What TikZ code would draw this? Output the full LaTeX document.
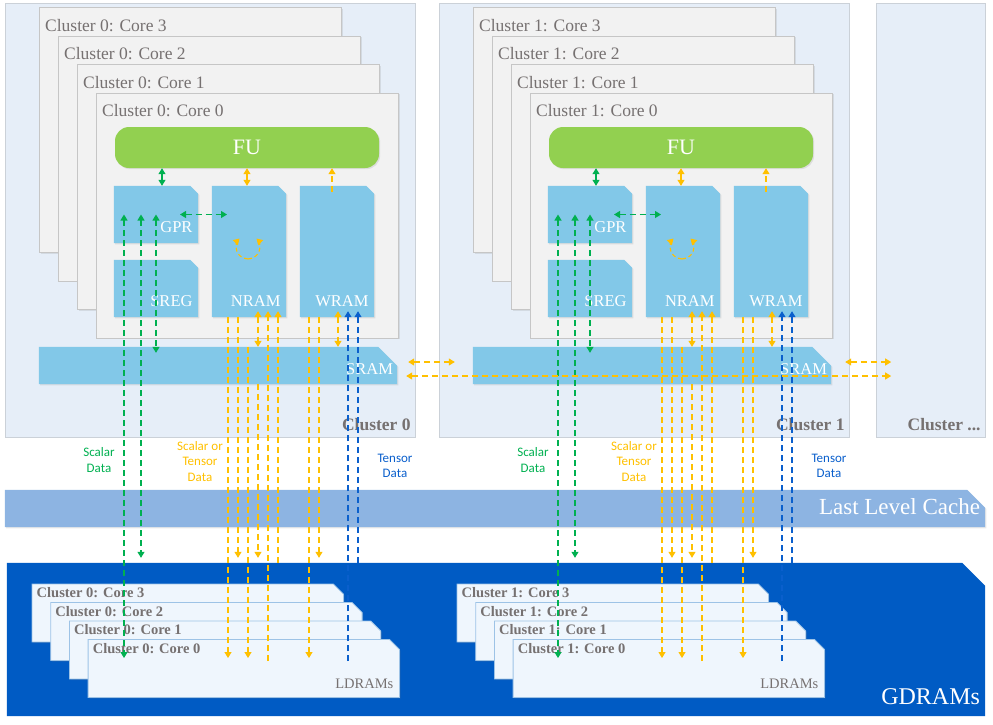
\documentclass[tikz,border=0pt]{standalone}
\usepackage{fontspec}
\setmainfont{Liberation Serif}
\newfontfamily\notefont{Carlito}
\usetikzlibrary{arrows.meta,shadows}

\definecolor{clusterbg}{HTML}{E6EEF8}
\definecolor{clusterline}{HTML}{CBD1D8}
\definecolor{corebg}{HTML}{F2F2F2}
\definecolor{coreline}{HTML}{C6C6C6}
\definecolor{memfill}{HTML}{82C8E8}
\definecolor{fugreen}{HTML}{92D050}
\definecolor{llcfill}{HTML}{8DB4E2}
\definecolor{gdramfill}{HTML}{005BC4}
\definecolor{ldfill}{HTML}{EFF6FD}
\definecolor{ldline}{HTML}{9DC3E6}
\definecolor{greytext}{HTML}{767171}
\definecolor{sgreen}{HTML}{00B050}
\definecolor{syellow}{HTML}{FFC000}
\definecolor{sblue}{HTML}{0A5FCC}

% box with its north east corner cut off
\newcommand{\snipshape}[3]{%
  \path[#3] (#1.south west) -- (#1.north west) -- ([xshift=-#2]#1.north east)
    -- ([yshift=-#2]#1.north east) -- (#1.south east) -- cycle;}

\tikzset{
  softshadow/.style={drop shadow={shadow xshift=1.2pt, shadow yshift=-1.2pt, opacity=.18}},
  clusterbox/.style={draw=clusterline, fill=clusterbg, line width=.8pt, anchor=north west,
    inner sep=0pt, minimum height=434pt},
  clustername/.style={anchor=base east, inner sep=0pt, text=greytext,
    font=\bfseries\fontsize{17.5}{20}\selectfont},
  corebox/.style={draw=coreline, fill=corebg, line width=.8pt, anchor=north west,
    inner sep=0pt, minimum width=302pt, minimum height=245pt, softshadow},
  corename/.style={anchor=base west, inner sep=0pt, text=greytext,
    font=\fontsize{17.5}{20}\selectfont},
  fubox/.style={fill=fugreen, rounded corners=14pt, minimum width=264pt, minimum height=41pt,
    text=white, font=\fontsize{22}{24}\selectfont, softshadow},
  area/.style={rectangle, inner sep=0pt},
  memname/.style={anchor=base east, inner sep=0pt, text=white,
    font=\fontsize{16.5}{18}\selectfont},
  ldbox/.style={area, anchor=north west, minimum width=311pt, minimum height=57.5pt},
  ldname/.style={anchor=base west, inner sep=0pt, text=greytext,
    font=\bfseries\fontsize{14.5}{16}\selectfont},
  notetext/.style={align=center, inner sep=0pt, font=\notefont\fontsize{13}{15.5}\selectfont},
  flow/.style={line width=1.1pt, dash pattern=on 6pt off 4pt},
  gflow/.style={flow, sgreen},
  yflow/.style={flow, syellow},
  bflow/.style={flow, sblue}
}

\begin{document}
\begin{tikzpicture}[x=1pt, y=1pt, >={Triangle[length=6pt,width=7pt]}]
\useasboundingbox (0,0) rectangle (993,-724);

% clusters and their cores
\foreach \c/\dx in {0/0,1/434}{
  \begin{scope}[xshift=\dx pt]
    \node[clusterbox, minimum width=410pt] (cl\c) at (5,-3) {};
    \node[clustername] at ([xshift=-5pt,yshift=7pt]cl\c.south east) {Cluster \c};
    \foreach \k/\i in {3/0,2/1,1/2,0/3}{
      \node[corebox] (core\c\k) at ({39+19*\i},{-7-28.5*\i}) {};
      \node[corename] at ([xshift=6pt,yshift=-24pt]core\c\k.north west) {Cluster \c: Core \k};
    }
    \node[fubox] (fu\c) at (247,-147.5) {FU};
    \node[area, minimum width=84pt, minimum height=57pt] (gpr\c) at (156,-214.5) {};
    \node[area, minimum width=84pt, minimum height=57pt] (sreg\c) at (156,-288.5) {};
    \node[area, minimum width=74pt, minimum height=131pt] (nram\c) at (249,-251.5) {};
    \node[area, minimum width=74pt, minimum height=131pt] (wram\c) at (337,-251.5) {};
    \node[area, minimum width=358pt, minimum height=37pt] (sram\c) at (218,-365.5) {};
    \foreach \m in {gpr,sreg,nram,wram}
      \snipshape{\m\c}{8pt}{fill=memfill, softshadow};
    \snipshape{sram\c}{19pt}{fill=memfill, softshadow};
    \foreach \m/\t in {gpr/GPR,sreg/SREG,nram/NRAM,wram/WRAM}
      \node[memname] at ([xshift=-5.5pt,yshift=10.5pt]\m\c.south east) {\t};
    \node[memname] at ([xshift=-4pt,yshift=10pt]sram\c.south east) {SRAM};
    \node[notetext, text=sgreen] at (99,-460) {Scalar\\Data};
    \node[notetext, text=syellow] at (200,-461.5) {Scalar or\\Tensor\\Data};
    \node[notetext, text=sblue] at (395,-466) {Tensor\\Data};
  \end{scope}
}
\node[clusterbox, minimum width=109pt] (clx) at (876,-3) {};
\node[clustername] at ([xshift=-5pt,yshift=7pt]clx.south east) {Cluster ...};

% caches and DRAM
\node[area, minimum width=980pt, minimum height=37pt] (llc) at (495,-508.5) {};
\snipshape{llc}{18pt}{fill=llcfill, softshadow};
\node[memname, font=\fontsize{23}{25}\selectfont] at ([xshift=-5pt,yshift=13pt]llc.south east) {Last Level Cache};
\node[area, minimum width=978pt, minimum height=153pt] (gdram) at (496,-639.5) {};
\snipshape{gdram}{23pt}{fill=gdramfill};
\node[memname, font=\fontsize{24}{26}\selectfont] at ([xshift=-5pt,yshift=12pt]gdram.south east) {GDRAMs};
\coordinate (gdtip) at ([yshift=5pt]gdram.north);

\foreach \c/\dx in {0/0,1/425}{
  \begin{scope}[xshift=\dx pt]
    \foreach \k/\i in {3/0,2/1,1/2,0/3}{
      \node[ldbox] (ldr\c\k) at ({32+18.7*\i},{-584-18.5*\i}) {};
      \snipshape{ldr\c\k}{10pt}{fill=ldfill, draw=ldline, line width=.8pt, softshadow};
      \node[ldname] at ([xshift=4.5pt,yshift=-13.5pt]ldr\c\k.north west) {Cluster \c: Core \k};
    }
    \node[anchor=base east, inner sep=0pt, text=greytext, font=\fontsize{14.5}{16}\selectfont]
      at ([xshift=-6pt,yshift=9pt]ldr\c0.south east) {LDRAMs};
    \coordinate (ldtip\c) at ([yshift=-18.5pt]ldr\c0.north);
    \coordinate (ldend\c) at ([yshift=-21.5pt]ldr\c0.north);
  \end{scope}
}

% data paths
\foreach \c/\dx in {0/0,1/434}{
  \begin{scope}[xshift=\dx pt]
    % scalar data
    \draw[gflow,<->] (162,0 |- fu\c.south) -- (162,0 |- gpr\c.north);
    \draw[gflow,<->] (180,0 |- gpr\c.center) -- (227,0 |- gpr\c.center);
    \draw[gflow,<->] (124,0 |- gpr\c.center) -- (124,0 |- ldtip\c);
    \draw[gflow,<->] (141,0 |- gpr\c.center) -- (141,0 |- gdtip);
    \draw[gflow,<->,shorten >=-6pt] (156,0 |- gpr\c.center) -- (156,0 |- sram\c.north);
    % scalar or tensor data
    \draw[yflow,<->] (247,0 |- fu\c.south) -- (247,0 |- nram\c.north);
    \draw[yflow,->,shorten <=-6pt] (332,0 |- wram\c.north) -- (332,0 |- fu\c.south);
    \draw[yflow,->,dash pattern=on 4pt off 3pt] ([xshift=-1pt,yshift=-7.5pt]nram\c.center) arc[start angle=270, end angle=135, radius=12pt];
    \draw[yflow,->,dash pattern=on 4pt off 3pt] ([xshift=-1pt,yshift=-7.5pt]nram\c.center) arc[start angle=-90, end angle=45, radius=12pt];
    \draw[yflow,->] (228,0 |- nram\c.south) -- (228,0 |- ldtip\c);
    \draw[yflow,->] (238,0 |- nram\c.south) -- (238,0 |- gdtip);
    \draw[yflow,->] (248,0 |- sram\c.north) -- (248,0 |- ldtip\c);
    \draw[yflow,<->,shorten <=-6pt] (258,0 |- nram\c.south) -- (258,0 |- sram\c.north);
    \draw[yflow,->] (258,0 |- sram\c.south) -- (258,0 |- gdtip);
    \draw[yflow,->,shorten >=-6pt] (268,0 |- ldend\c) -- (268,0 |- nram\c.south);
    \draw[yflow,->,shorten >=-6pt] (278,0 |- gdram.north) -- (278,0 |- nram\c.south);
    \draw[yflow,->] (309,0 |- wram\c.south) -- (309,0 |- ldtip\c);
    \draw[yflow,->] (319,0 |- wram\c.south) -- (319,0 |- gdtip);
    \draw[yflow,<->,shorten <=-6pt] (338,0 |- wram\c.south) -- (338,0 |- sram\c.north);
    % tensor data
    \draw[bflow,->,shorten >=-6pt] (348,0 |- ldend\c) -- (348,0 |- wram\c.south);
    \draw[bflow,->,shorten >=-6pt] (358,0 |- gdram.north) -- (358,0 |- wram\c.south);
  \end{scope}
}

% between clusters
\draw[yflow,<->] ([xshift=11pt,yshift=3.5pt]sram0.east) -- ([xshift=-18pt,yshift=3.5pt]sram1.west);
\draw[yflow,<->] ([xshift=14pt,yshift=3.5pt]sram1.east) -- ++(46pt,0);
\draw[yflow,<->] ([xshift=9pt,yshift=-10.5pt]sram0.east) -- ([xshift=60pt,yshift=-10.5pt]sram1.east);

\end{tikzpicture}
\end{document}
